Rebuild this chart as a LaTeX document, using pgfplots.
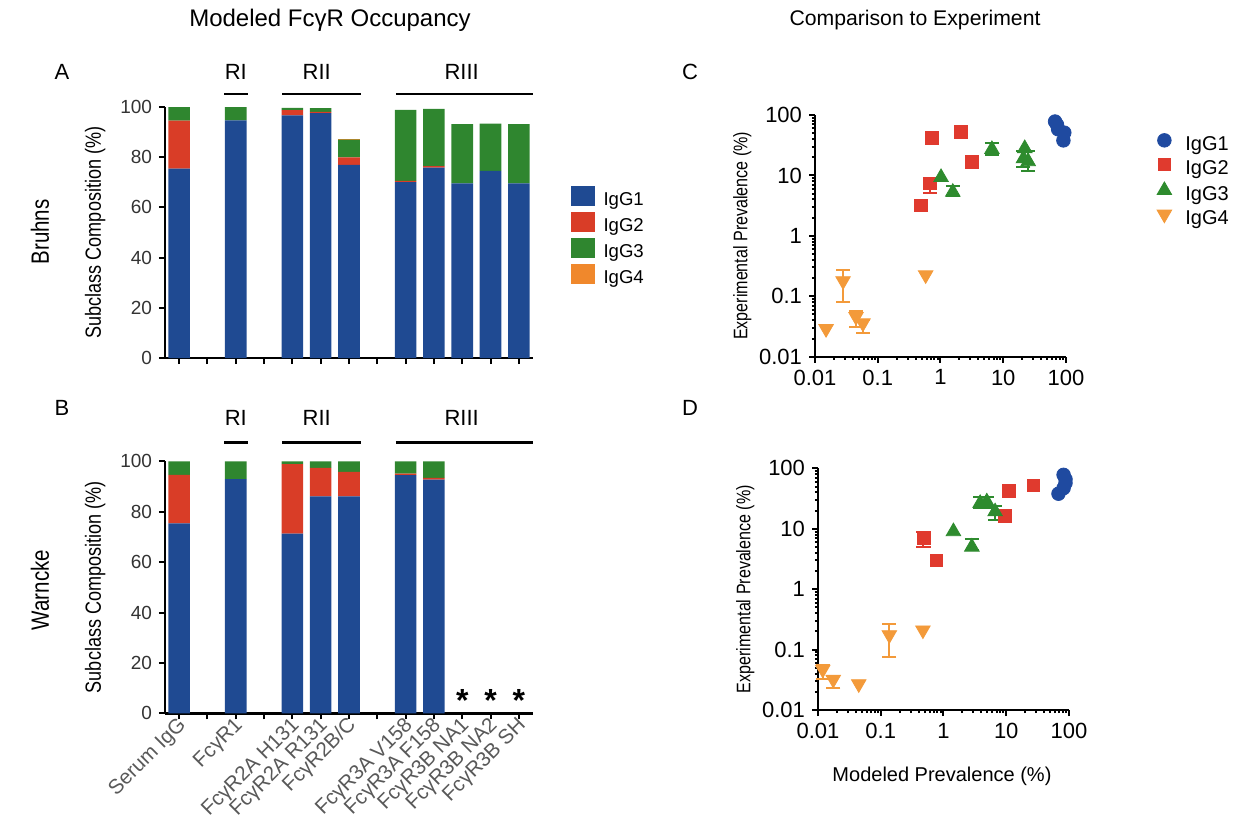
\documentclass[border=0pt]{standalone}
\usepackage{fontspec}
\setmainfont{Liberation Sans}
\newfontfamily\narrowfont[FakeStretch=0.82]{Liberation Sans}
\usepackage{pgfplots}
\pgfplotsset{compat=1.18}

% colours picked from the figure
\definecolor{g1}{HTML}{1F4A92}
\definecolor{g2}{HTML}{D93D27}
\definecolor{g3}{HTML}{2F862F}
\definecolor{g4}{HTML}{F0882C}
\definecolor{s1}{HTML}{1F4AA0}
\definecolor{s2}{HTML}{E03A2E}
\definecolor{s3}{HTML}{2E8B2E}
\definecolor{s4}{HTML}{F39A3A}

\newcommand{\fs}[1]{\fontsize{#1bp}{#1bp}\selectfont}

\pgfplotsset{
  basestyle/.style={
    scale only axis, anchor=south west, clip=false,
    axis x line*=bottom, axis y line*=left,
    axis line style={line width=1.2bp},
    every tick/.style={black, line width=1bp},
    tick align=outside,
    major tick length=3bp, minor tick length=1.6bp,
    /pgf/number format/assume math mode=true,
  },
  barstyle/.style={basestyle,
    width=184bp, height=125.5bp,
    xmin=-0.5, xmax=12.5, ymin=0, ymax=100,
    xtick={0,...,12}, ytick={0,20,...,100},
    ybar stacked, bar width=10.8bp,
    every axis plot/.append style={draw=none},
    yticklabel style={font=\fs{9.5}, text=black!80},
    ylabel={Subclass Composition (\%)},
    ylabel style={font=\narrowfont\fs{11}, at={(axis description cs:-0.19,0.5)}, anchor=center},
  },
  scatstyle/.style={basestyle,
    width=125.5bp, height=120.85bp,
    xmin=0.01, xmax=100, ymin=0.01, ymax=100,
    xtick={0.01,0.1,1,10,100}, xticklabels={0.01,0.1,1,10,100},
    ytick={0.01,0.1,1,10,100}, yticklabels={0.01,0.1,1,10,100},
    minor xtick={0.02,0.03,0.04,0.05,0.06,0.07,0.08,0.09,0.2,0.3,0.4,0.5,0.6,0.7,0.8,0.9,2,3,4,5,6,7,8,9,20,30,40,50,60,70,80,90},
    minor ytick={0.02,0.03,0.04,0.05,0.06,0.07,0.08,0.09,0.2,0.3,0.4,0.5,0.6,0.7,0.8,0.9,2,3,4,5,6,7,8,9,20,30,40,50,60,70,80,90},
    ticklabel style={font=\fs{11}},
    ylabel={Experimental Prevalence (\%)},
    ylabel style={font=\narrowfont\fs{9.8}, at={(axis description cs:-0.29,0.5)}, anchor=center},
  },
  m1/.style={only marks, mark=*, mark size=3.4bp, color=s1},
  m2/.style={only marks, mark=square*, mark size=3.2bp, color=s2},
  m3/.style={only marks, mark=triangle*, mark size=4.2bp, color=s3},
  m4/.style={only marks, mark=triangle*, mark size=4.2bp, mark options={rotate=180}, color=s4},
  eb/.style={forget plot, error bars/y dir=both, error bars/y explicit,
    error bars/error mark=-,
    error bars/error bar style={line width=1bp},
    error bars/error mark options={rotate=90, mark size=3.5bp, line width=1bp}},
}

\begin{document}
\begin{tikzpicture}
\useasboundingbox (0,0) rectangle (624bp,-412.5bp);

\node[font=\fs{12}] at (165bp,-10bp) {Modeled FcγR Occupancy};
\node[font=\fs{10.6}] at (457.5bp,-10bp) {Comparison to Experiment};
\node[font=\fs{11}] at (31bp,-36bp) {A};
\node[font=\fs{11}] at (31bp,-204bp) {B};
\node[font=\fs{11}] at (345bp,-36bp) {C};
\node[font=\fs{11}] at (345bp,-204bp) {D};
\node[font=\narrowfont\fs{12.5}, rotate=90] at (20bp,-116bp) {Bruhns};
\node[font=\narrowfont\fs{12.5}, rotate=90] at (20bp,-295bp) {Warncke};

% A: Bruhns occupancy
\begin{axis}[barstyle, at={(82.5bp,-179bp)}, xticklabels=\empty,
  legend style={at={(axis description cs:1.103,0.688)}, anchor=north west,
    draw=none, fill=none, font=\fs{9.3}, row sep=0pt, inner sep=0pt,
    nodes={inner sep=0.4bp, text height=7.3bp, text depth=2.7bp},
    /tikz/every odd column/.append style={column sep=3.7bp}},
  legend cell align=left,
  legend image code/.code={\draw[#1,draw=none] (0bp,-2.4bp) rectangle (12bp,7.6bp);}]
\addplot[fill=g1] coordinates {(0,75.4) (2,94.7) (4,96.7) (5,97.6) (6,76.9) (8,70.1) (9,75.8) (10,69.6) (11,74.6) (12,69.6)};
\addplot[fill=g2] coordinates {(0,19.2) (2,0) (4,2.1) (5,0.5) (6,3.0) (8,0.5) (9,0.6) (10,0) (11,0) (12,0)};
\addplot[fill=g3] coordinates {(0,5.4) (2,5.3) (4,0.9) (5,1.5) (6,7.1) (8,28.3) (9,22.9) (10,23.6) (11,18.8) (12,23.6)};
\addplot[fill=g4] coordinates {(0,0) (2,0) (4,0) (5,0) (6,0.4) (8,0) (9,0) (10,0) (11,0) (12,0)};
\legend{IgG1,IgG2,IgG3,IgG4}
\draw[line width=1.2bp] (axis cs:1.59,105.1) -- (axis cs:2.44,105.1);
\draw[line width=1.2bp] (axis cs:3.64,105.1) -- (axis cs:6.42,105.1);
\draw[line width=1.2bp] (axis cs:7.66,105.1) -- (axis cs:12.5,105.1);
\node[font=\fs{11}] at (axis cs:2,114.1) {RI};
\node[font=\fs{11}] at (axis cs:4.86,114.1) {RII};
\node[font=\fs{11}] at (axis cs:9.98,114.1) {RIII};
\end{axis}

% B: Warncke occupancy
\begin{axis}[barstyle, at={(82.5bp,-356.65bp)}, height=126bp,
  xticklabels={Serum IgG,{},FcγR1,{},FcγR2A H131,FcγR2A R131,FcγR2B/C,{},FcγR3A V158,FcγR3A F158,FcγR3B NA1,FcγR3B NA2,FcγR3B SH},
  xticklabel style={rotate=45, anchor=east, font=\fs{10.3}, text=black!65, inner sep=1bp, xshift=1.5bp, yshift=-2.5bp}]
\addplot[fill=g1] coordinates {(0,75.4) (2,92.9) (4,71.3) (5,86.1) (6,86.1) (8,94.5) (9,92.7)};
\addplot[fill=g2] coordinates {(0,19.2) (2,0) (4,27.6) (5,11.3) (6,9.7) (8,0.6) (9,0.7)};
\addplot[fill=g3] coordinates {(0,5.4) (2,7.1) (4,1.1) (5,2.6) (6,4.2) (8,4.9) (9,6.6)};
\draw[line width=1.2bp] (axis cs:1.59,107.4) -- (axis cs:2.44,107.4);
\draw[line width=1.2bp] (axis cs:3.64,107.4) -- (axis cs:6.42,107.4);
\draw[line width=1.2bp] (axis cs:7.66,107.4) -- (axis cs:12.5,107.4);
\node[font=\fs{11}] at (axis cs:2,117.2) {RI};
\node[font=\fs{11}] at (axis cs:4.86,117.2) {RII};
\node[font=\fs{11}] at (axis cs:9.98,117.2) {RIII};
\node[font=\bfseries\fs{16}, anchor=base] at (axis cs:10,0.8) {*};
\node[font=\bfseries\fs{16}, anchor=base] at (axis cs:11,0.8) {*};
\node[font=\bfseries\fs{16}, anchor=base] at (axis cs:12,0.8) {*};
\end{axis}

% C: Bruhns vs experiment
\begin{loglogaxis}[scatstyle, at={(407.5bp,-178.35bp)},
  legend style={at={(axis description cs:1.357,0.925)}, anchor=north west,
    draw=none, fill=none, font=\fs{10}, row sep=0pt, inner sep=0pt,
    nodes={inner sep=0.5bp, text height=8bp, text depth=3bp},
    /tikz/every odd column/.append style={column sep=5.8bp}},
  legend cell align=left,
  legend image code/.code={\path[draw=none, fill=none] (0bp,-1bp) rectangle (8.4bp,1bp);
    \draw[#1] plot coordinates {(4.2bp,2.8bp)};}]
\addplot[m1] coordinates {(67,78) (72,69) (75,58) (94,51) (91,38)};
\addlegendentry{IgG1}
\addplot[m2, eb] coordinates {(0.68,7.4) += (0,1.8) -= (0,2.3)};
\addplot[m2] coordinates {(0.73,42) (2.1,52) (3.2,16.7) (0.48,3.2)};
\addlegendentry{IgG2}
\addplot[m3, eb] coordinates {(1.57,5.3) += (0,1.5) -= (0,0.8) (6.6,27) += (0,8) -= (0,5) (21,19) += (0,6) -= (0,5) (25,17) += (0,8) -= (0,5)};
\addplot[m3] coordinates {(1.02,9.3) (22,28)};
\addlegendentry{IgG3}
\addplot[m4, eb] coordinates {(0.028,0.18) += (0,0.09) -= (0,0.10) (0.045,0.046) += (0,0.012) -= (0,0.015) (0.058,0.036) += (0,0.005) -= (0,0.011)};
\addplot[m4] coordinates {(0.015,0.029) (0.58,0.225)};
\addlegendentry{IgG4}
\end{loglogaxis}

% D: Warncke vs experiment
\begin{loglogaxis}[scatstyle, at={(409bp,-355bp)},
  xlabel={Modeled Prevalence (\%)},
  xlabel style={font=\fs{10}, at={(axis description cs:0.494,-0.273)}, anchor=center}]
\addplot[m1] coordinates {(82,78) (88,66) (88,57) (82,47) (68,38)};
\addplot[m2, eb] coordinates {(0.48,7.1) += (0,1.9) -= (0,2.2)};
\addplot[m2] coordinates {(0.77,3.0) (11.1,42) (27,52) (9.6,16.3)};
\addplot[m3, eb] coordinates {(2.83,5.0) += (0,1.7) -= (0,0.6) (3.84,26.4) += (0,7) -= (0,4.6) (4.9,28) += (0,6) -= (0,6) (6.65,19.2) += (0,4.6) -= (0,5.2)};
\addplot[m3] coordinates {(1.44,9.0)};
\addplot[m4, eb] coordinates {(0.0119,0.047) += (0,0.008) -= (0,0.015) (0.0175,0.032) += (0,0.004) -= (0,0.009) (0.137,0.175) += (0,0.09) -= (0,0.10)};
\addplot[m4] coordinates {(0.0446,0.027) (0.47,0.21)};
\end{loglogaxis}
\end{tikzpicture}
\end{document}
